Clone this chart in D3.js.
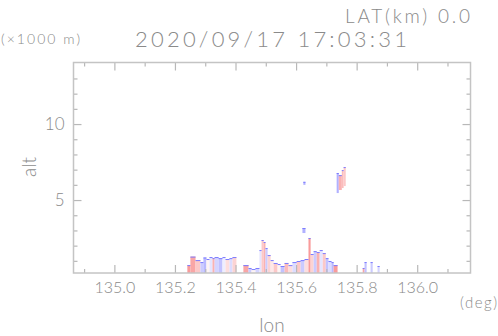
<!DOCTYPE html>
<html>
<head>
<meta charset="utf-8">
<script src="https://cdn.jsdelivr.net/npm/d3@7"></script>
<style>
body { margin: 0; background: #fff; }
text { font-family: Lato, "DejaVu Sans", sans-serif; font-weight: 300; fill: #8a8a8a; }
</style>
</head>
<body>
<div id="chart"></div>
<script>
// ground-level echo columns: lon start, lon end, top altitude (km), velocity (-1 blue .. +1 red)
var colLon0 = [135.241,135.251,135.268,135.284,135.294,135.304,135.314,135.324,135.331,135.344,135.357,135.367,135.380,135.390,
               135.426,135.443,135.453,135.466,135.479,135.486,135.493,135.499,135.506,135.516,135.526,135.539,135.549,135.562,
               135.575,135.588,135.602,135.615,135.628,135.641,135.648,135.658,135.668,135.678,135.688,135.698,135.707,135.717,
               135.724,135.820,135.826,135.846,135.869];
var colLon1 = [135.251,135.268,135.284,135.294,135.304,135.314,135.324,135.331,135.344,135.357,135.367,135.380,135.390,135.403,
               135.443,135.453,135.466,135.479,135.486,135.493,135.499,135.506,135.516,135.526,135.539,135.549,135.562,135.575,
               135.588,135.602,135.615,135.628,135.641,135.648,135.658,135.668,135.678,135.688,135.698,135.707,135.717,135.724,
               135.737,135.826,135.833,135.853,135.876];
var colTop = [0.72,1.28,1.05,0.92,1.22,1.12,1.25,1.18,1.25,1.18,1.25,1.12,1.18,1.25,
              0.72,0.53,0.46,0.53,1.71,2.37,2.24,1.84,1.38,1.05,0.86,0.79,0.66,0.86,
              0.72,0.92,0.99,1.05,1.12,2.50,1.45,1.64,1.58,1.71,1.51,1.18,0.99,0.92,
              0.72,0.53,0.92,0.92,0.66];
var colVel = [0.9,0.8,0.5,-0.6,-0.8,0.1,-0.3,0.7,-0.5,-0.7,-0.2,0.3,-0.4,0.4,
              0.8,-0.6,0.1,-0.5,-0.3,0.5,0.7,-0.6,0.4,0.2,0.5,0.1,-0.7,0.6,
              0.3,-0.4,0.5,-0.6,0.3,0.9,0.4,-0.6,0.7,-0.3,0.5,-0.7,-0.4,-0.8,
              0.9,0.8,-0.7,-0.6,-0.5];

// elevated echoes: lon start, lon end, bottom alt, top alt, velocity
var blobLon0 = [135.621,135.624,135.734,135.741,135.751,135.757];
var blobLon1 = [135.631,135.631,135.741,135.751,135.757,135.764];
var blobBot  = [2.83,6.00,5.46,5.66,5.79,5.92];
var blobTop  = [3.16,6.20,6.78,6.64,6.97,7.17];
var blobVel  = [-0.9,-0.9,-0.9,0.7,0.6,0.5];

var xMinor = [134.9,135.1,135.3,135.5,135.7,135.9,136.1];
var xMajor = [135.0,135.2,135.4,135.6,135.8,136.0];
var yMinor = [1,2,3,4,6,7,8,9,11,12,13];
var yMajor = [5,10];

var W = 498, H = 336;
var svg = d3.select("#chart").append("svg").attr("width", W).attr("height", H);

var x = d3.scaleLinear().domain([134.865, 136.176]).range([73.5, 470.5]);
var y = d3.scaleLinear().domain([0.2, 14.05]).range([273, 62.5]);
var vColor = d3.scaleLinear().domain([-1, 0, 1]).range(["#a8a8ff", "#ffffff", "#f89090"]);

var plot = svg.append("g");

// columns
var cols = d3.range(colLon0.length);
plot.selectAll("rect.col").data(cols).enter().append("rect")
	.attr("class", "col")
	.attr("x", function(i) { return x(colLon0[i]); })
	.attr("width", function(i) { return x(colLon1[i]) - x(colLon0[i]); })
	.attr("y", function(i) { return y(colTop[i]); })
	.attr("height", function(i) { return y(0.2) - y(colTop[i]); })
	.style("fill", function(i) { return vColor(colVel[i]); });

// blue edge on top of each column
plot.selectAll("rect.cap").data(cols).enter().append("rect")
	.attr("class", "cap")
	.attr("x", function(i) { return x(colLon0[i]); })
	.attr("width", function(i) { return x(colLon1[i]) - x(colLon0[i]); })
	.attr("y", function(i) { return y(colTop[i]); })
	.attr("height", 1)
	.style("fill", "#7c7cff");

var blobs = d3.range(blobLon0.length);
plot.selectAll("rect.blob").data(blobs).enter().append("rect")
	.attr("class", "blob")
	.attr("x", function(i) { return x(blobLon0[i]); })
	.attr("width", function(i) { return x(blobLon1[i]) - x(blobLon0[i]); })
	.attr("y", function(i) { return y(blobTop[i]); })
	.attr("height", function(i) { return y(blobBot[i]) - y(blobTop[i]); })
	.style("fill", function(i) { return vColor(blobVel[i]); });

plot.selectAll("rect.bcap").data(blobs).enter().append("rect")
	.attr("class", "bcap")
	.attr("x", function(i) { return x(blobLon0[i]); })
	.attr("width", function(i) { return x(blobLon1[i]) - x(blobLon0[i]); })
	.attr("y", function(i) { return y(blobTop[i]); })
	.attr("height", 1)
	.style("fill", "#7c7cff");

// axes, ticks pointing inward
function styleAxis(g) {
	g.select(".domain").remove();
	g.selectAll("line").attr("stroke", "#b8b8b8").attr("stroke-width", 1.2);
	g.selectAll("text").style("font-size", "16px").attr("fill", null);
}

svg.append("g").attr("transform", "translate(0,273)")
	.call(d3.axisBottom(x).tickValues(xMinor).tickSize(-4).tickFormat(""))
	.call(styleAxis);
svg.append("g").attr("transform", "translate(0,273)")
	.call(d3.axisBottom(x).tickValues(xMajor).tickSize(-8).tickPadding(9).tickFormat(d3.format(".1f")))
	.call(styleAxis);
svg.append("g").attr("transform", "translate(0,62.5)")
	.call(d3.axisTop(x).tickValues(xMinor).tickSize(-4).tickFormat(""))
	.call(styleAxis);
svg.append("g").attr("transform", "translate(0,62.5)")
	.call(d3.axisTop(x).tickValues(xMajor).tickSize(-8).tickFormat(""))
	.call(styleAxis);
svg.append("g").attr("transform", "translate(73.5,0)")
	.call(d3.axisLeft(y).tickValues(yMinor).tickSize(-4).tickFormat(""))
	.call(styleAxis);
svg.append("g").attr("transform", "translate(73.5,0)")
	.call(d3.axisLeft(y).tickValues(yMajor).tickSize(-8).tickPadding(9).tickFormat(d3.format("d")))
	.call(function(g) { styleAxis(g); g.selectAll("text").style("font-size", "17px"); });
svg.append("g").attr("transform", "translate(470.5,0)")
	.call(d3.axisRight(y).tickValues(yMinor).tickSize(-4).tickFormat(""))
	.call(styleAxis);
svg.append("g").attr("transform", "translate(470.5,0)")
	.call(d3.axisRight(y).tickValues(yMajor).tickSize(-8).tickFormat(""))
	.call(styleAxis);

// frame
svg.append("rect")
	.attr("x", 73.5).attr("y", 62.5)
	.attr("width", 397).attr("height", 210.5)
	.style("fill", "none").style("stroke", "#c4c4c4").style("stroke-width", 1.5);

// texts
svg.append("text").attr("x", 345).attr("y", 23).attr("textLength", 125)
	.style("font-size", "19px").text("LAT(km) 0.0");
svg.append("text").attr("x", 135).attr("y", 47).attr("textLength", 272)
	.style("font-size", "22px").text("2020/09/17 17:03:31");
svg.append("text").attr("x", 1).attr("y", 44).attr("textLength", 79)
	.style("font-size", "14px").text("(\u00d71000 m)");
svg.append("text").attr("transform", "translate(36,167) rotate(-90)")
	.attr("text-anchor", "middle").style("font-size", "19px").text("alt");
svg.append("text").attr("x", 460).attr("y", 308).attr("textLength", 37)
	.style("font-size", "15px").text("(deg)");
svg.append("text").attr("x", 272).attr("y", 332).attr("text-anchor", "middle")
	.style("font-size", "19px").text("lon");
</script>
</body>
</html>
